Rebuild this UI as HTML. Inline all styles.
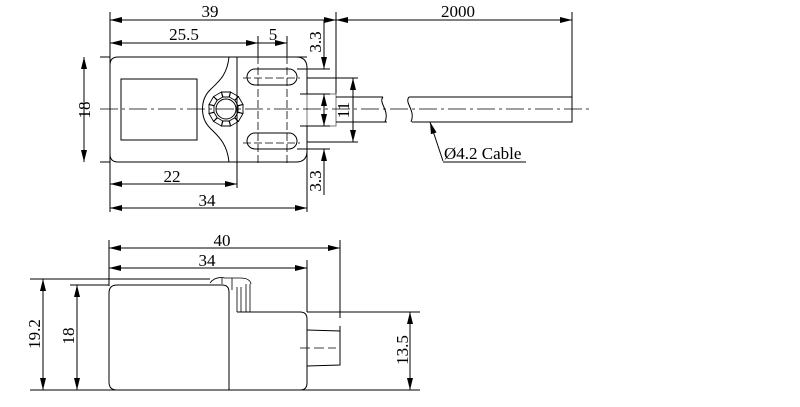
<!DOCTYPE html>
<html><head><style>body{margin:0;background:#fff}svg{display:block}text{font-family:"Liberation Serif",serif;fill:#000}</style></head>
<body>
<svg width="800" height="407" viewBox="0 0 800 407" xmlns="http://www.w3.org/2000/svg">
<defs>
<marker id="a" viewBox="0 0 12 6" refX="12" refY="3" markerWidth="12" markerHeight="6" orient="auto" markerUnits="userSpaceOnUse"><path d="M0,0L12,3L0,6z" fill="#000"/></marker>
<path id="t" d="M-3,-12 L3,-12 L4.5,-17 L-4.5,-17Z"/>
</defs>
<g stroke="#000" stroke-width="1" fill="none">
<line x1="110" y1="12" x2="110" y2="212"/>
<line x1="336" y1="12" x2="336" y2="94"/>
<line x1="572" y1="12" x2="572" y2="97"/>
<line x1="258" y1="36" x2="258" y2="56"/>
<line x1="287" y1="36" x2="287" y2="56"/>
<line x1="237" y1="162" x2="237" y2="188"/>
<line x1="307" y1="140" x2="307" y2="212"/>
<line x1="100" y1="57" x2="110" y2="57"/>
<line x1="100" y1="162" x2="110" y2="162"/>
<line x1="336" y1="20" x2="110" y2="20" marker-end="url(#a)"/>
<line x1="110" y1="20" x2="336" y2="20" marker-end="url(#a)"/>
<line x1="336" y1="20" x2="572" y2="20" marker-end="url(#a)"/>
<line x1="350" y1="20" x2="336" y2="20" marker-end="url(#a)"/>
<line x1="258" y1="43" x2="110" y2="43" marker-end="url(#a)"/>
<line x1="110" y1="43" x2="258" y2="43" marker-end="url(#a)"/>
<line x1="258" y1="43" x2="287" y2="43" marker-end="url(#a)"/>
<line x1="84" y1="110" x2="84" y2="57" marker-end="url(#a)"/>
<line x1="84" y1="110" x2="84" y2="162" marker-end="url(#a)"/>
<line x1="174" y1="184" x2="110" y2="184" marker-end="url(#a)"/>
<line x1="174" y1="184" x2="237" y2="184" marker-end="url(#a)"/>
<line x1="210" y1="208" x2="110" y2="208" marker-end="url(#a)"/>
<line x1="210" y1="208" x2="307" y2="208" marker-end="url(#a)"/>
<path d="M118,57 H307 M296,57 Q307,57 307,68 V94 M307,126 V151 Q307,162 296,162 H118 Q110,162 110,154 V65 Q110,57 118,57"/>
<line x1="237" y1="57" x2="237" y2="162"/>
<path d="M229,57 C227,76 218,82 210,90 C200,100 200,118 210,128 C218,136 227,143 229,162"/>
<rect x="121" y="79" width="76" height="61"/>
<circle cx="226" cy="109" r="10"/>
<g transform="translate(226,109)" stroke-width="0.9">
<use href="#t"/><use href="#t" transform="rotate(30)"/><use href="#t" transform="rotate(60)"/><use href="#t" transform="rotate(90)"/><use href="#t" transform="rotate(120)"/><use href="#t" transform="rotate(150)"/><use href="#t" transform="rotate(180)"/><use href="#t" transform="rotate(210)"/><use href="#t" transform="rotate(240)"/><use href="#t" transform="rotate(270)"/><use href="#t" transform="rotate(300)"/><use href="#t" transform="rotate(330)"/>
</g>
<path d="M255,69 H289 A8,8 0 0 1 289,85 H255 A8,8 0 0 1 255,69Z"/>
<path d="M255,133 H289 A8,8 0 0 1 289,149 H255 A8,8 0 0 1 255,133Z"/>
<g stroke-dasharray="8 3" stroke-width="0.8">
<line x1="258" y1="56" x2="258" y2="166"/>
<line x1="287" y1="56" x2="287" y2="166"/>
<line x1="243" y1="78" x2="300" y2="78"/>
<line x1="243" y1="143" x2="300" y2="143"/>
</g>
<line x1="297" y1="69" x2="330" y2="69"/>
<line x1="297" y1="149" x2="330" y2="149"/>
<line x1="307" y1="78" x2="358" y2="78"/>
<line x1="307" y1="142" x2="358" y2="142"/>
<rect x="307" y="94" width="29" height="32" stroke="#777"/>
<line x1="300" y1="94" x2="330" y2="94"/>
<line x1="300" y1="126" x2="330" y2="126"/>
<line x1="324" y1="110" x2="324" y2="94" marker-end="url(#a)"/>
<line x1="324" y1="110" x2="324" y2="126" marker-end="url(#a)"/>
<line x1="324" y1="20" x2="324" y2="69" marker-end="url(#a)"/>
<line x1="324" y1="195" x2="324" y2="149" marker-end="url(#a)"/>
<line x1="353" y1="110" x2="353" y2="78" marker-end="url(#a)"/>
<line x1="353" y1="110" x2="353" y2="142" marker-end="url(#a)"/>
<path d="M336,97 H383 M336,122 H387 M383,97 C378,103 390,110 385,122"/>
<path d="M409,97 H572 V122 H412 M409,97 C404,103 416,110 411,122"/>
<line x1="100" y1="109" x2="590" y2="109" stroke-dasharray="18 4 3 4" stroke-width="0.8"/>
<line x1="443" y1="161" x2="430" y2="122" marker-end="url(#a)"/>
<line x1="443" y1="162" x2="526" y2="162"/>
<line x1="109" y1="240" x2="109" y2="286"/>
<line x1="307" y1="260" x2="307" y2="312"/>
<line x1="340" y1="240" x2="340" y2="318"/>
<line x1="340" y1="326" x2="340" y2="360"/>
<line x1="200" y1="248" x2="109" y2="248" marker-end="url(#a)"/>
<line x1="200" y1="248" x2="340" y2="248" marker-end="url(#a)"/>
<line x1="200" y1="268" x2="109" y2="268" marker-end="url(#a)"/>
<line x1="200" y1="268" x2="307" y2="268" marker-end="url(#a)"/>
<line x1="30" y1="279" x2="210" y2="279"/>
<line x1="70" y1="285" x2="109" y2="285"/>
<line x1="30" y1="390" x2="420" y2="390"/>
<line x1="307" y1="312" x2="420" y2="312"/>
<line x1="43" y1="335" x2="43" y2="279" marker-end="url(#a)"/>
<line x1="43" y1="335" x2="43" y2="390" marker-end="url(#a)"/>
<line x1="77" y1="338" x2="77" y2="285" marker-end="url(#a)"/>
<line x1="77" y1="338" x2="77" y2="390" marker-end="url(#a)"/>
<line x1="410" y1="350" x2="410" y2="312" marker-end="url(#a)"/>
<line x1="410" y1="350" x2="410" y2="390" marker-end="url(#a)"/>
<path d="M117,285 H222 Q229,285 229,292 V390 M117,285 Q109,285 109,293 V382 Q109,390 117,390 H300 Q307,390 307,383 V319 Q307,312 300,312 H237"/>
<path d="M237,312 V287 M241,312 V287 M246,312 V284 M250,312 V284 M210,283 Q215,276 225,278 H240 Q250,278 251,284 M232,278 V290 M222,278 V284" stroke-width="0.8"/>
<path d="M307,330 L340,331 V365 L307,366"/>
<line x1="300" y1="348" x2="336" y2="348" stroke-dasharray="10 4" stroke-width="0.8"/>
</g>
<g font-size="17">
<text x="210" y="17" text-anchor="middle">39</text>
<text x="458" y="17" text-anchor="middle">2000</text>
<text x="184" y="40" text-anchor="middle">25.5</text>
<text x="273" y="40" text-anchor="middle">5</text>
<text x="172" y="182" text-anchor="middle">22</text>
<text x="207" y="206" text-anchor="middle">34</text>
<text x="444" y="159">Ø4.2 Cable</text>
<text x="222" y="246" text-anchor="middle">40</text>
<text x="207" y="266" text-anchor="middle">34</text>
<text transform="translate(90,110) rotate(-90)" text-anchor="middle">18</text>
<text transform="translate(321,42) rotate(-90)" text-anchor="middle">3.3</text>
<text transform="translate(321,181) rotate(-90)" text-anchor="middle">3.3</text>
<text transform="translate(349,110) rotate(-90)" text-anchor="middle">11</text>
<text transform="translate(40,334) rotate(-90)" text-anchor="middle">19.2</text>
<text transform="translate(74,336) rotate(-90)" text-anchor="middle">18</text>
<text transform="translate(408,350) rotate(-90)" text-anchor="middle">13.5</text>
</g>
</svg>
</body></html>
